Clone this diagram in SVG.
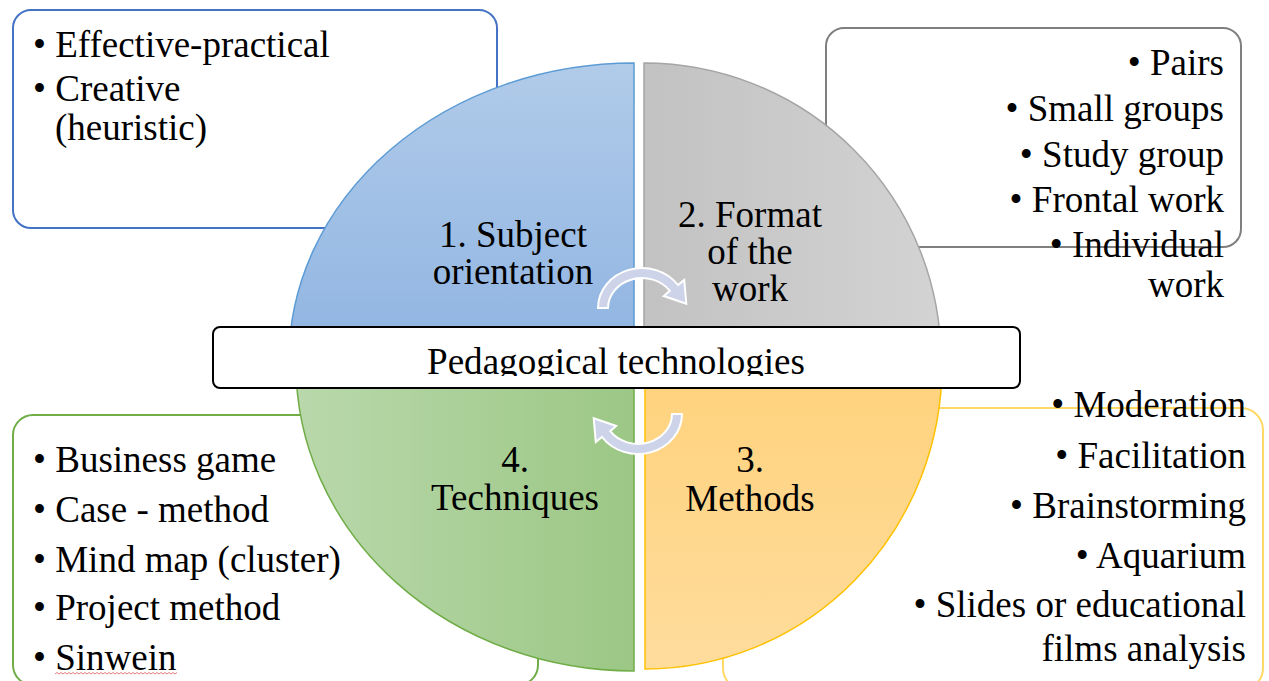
<svg xmlns="http://www.w3.org/2000/svg" width="1269" height="681" viewBox="0 0 1269 681">
  <style>
    .t { font-family: "Liberation Serif", "Times New Roman", serif; font-size: 37px; fill: #000; }
    .m { text-anchor: middle; }
    .e { text-anchor: end; }
    .box { fill: #fff; stroke-width: 2; }
    .arr { fill: #cdd4ea; stroke: #fff; stroke-width: 2; }
  </style>
  <defs>
    <linearGradient id="gBlue" x1="0" y1="0" x2="0" y2="1">
      <stop offset="0" stop-color="#b1cbe9"/>
      <stop offset="1" stop-color="#8fb4e2"/>
    </linearGradient>
    <linearGradient id="gGray" x1="0" y1="0" x2="1" y2="0">
      <stop offset="0" stop-color="#c2c2c2"/>
      <stop offset="1" stop-color="#d3d3d3"/>
    </linearGradient>
    <linearGradient id="gGreen" x1="0" y1="0" x2="1" y2="0">
      <stop offset="0" stop-color="#b9d8ab"/>
      <stop offset="1" stop-color="#9cc785"/>
    </linearGradient>
    <linearGradient id="gOrange" x1="0" y1="0" x2="0" y2="1">
      <stop offset="0" stop-color="#ffd27c"/>
      <stop offset="1" stop-color="#fedc9c"/>
    </linearGradient>
    <clipPath id="clipTitle">
      <rect x="214" y="328" width="805" height="48"/>
    </clipPath>
  </defs>

  <!-- text boxes (behind the quadrants) -->
  <g id="box-subject">
    <rect class="box" x="13" y="10" width="484" height="218" rx="18" stroke="#4472c4"/>
    <text class="t" x="33" y="57">• Effective-practical</text>
    <text class="t" x="33" y="101">• Creative</text>
    <text class="t" x="55" y="140">(heuristic)</text>
  </g>
  <g id="box-format">
    <rect class="box" x="826" y="28" width="415" height="219" rx="18" stroke="#7f7f7f"/>
  </g>
  <g id="box-techniques">
    <rect class="box" x="13" y="415" width="525" height="270" rx="20" stroke="#70ad47"/>
  </g>
  <g id="box-methods">
    <rect class="box" x="723" y="408" width="540" height="282" rx="22" stroke="#ffd966"/>
  </g>

  <!-- quadrants -->
  <g id="q1-subject">
    <path d="M634,360 L634,63 A345,297 0 0 0 289,360 Z" fill="url(#gBlue)" stroke="#5b9bd5" stroke-width="1.5"/>
    <text class="t m" x="513" y="247">1. Subject</text>
    <text class="t m" x="513" y="284">orientation</text>
  </g>
  <g id="q2-format">
    <path d="M644,360 L644,63 A297,297 0 0 1 941,360 Z" fill="url(#gGray)" stroke="#a5a5a5" stroke-width="1.5"/>
    <text class="t m" x="750" y="227">2. Format</text>
    <text class="t m" x="750" y="264">of the</text>
    <text class="t m" x="750" y="301">work</text>
  </g>
  <g id="q4-techniques">
    <path d="M634,365 L296,365 A338,306 0 0 0 634,671 Z" fill="url(#gGreen)" stroke="#70ad47" stroke-width="1.5"/>
    <text class="t m" x="515" y="472">4.</text>
    <text class="t m" x="515" y="510">Techniques</text>
  </g>
  <g id="q3-methods">
    <path d="M645,365 L645,669 A297,304 0 0 0 942,365 Z" fill="url(#gOrange)" stroke="#ffc000" stroke-width="1.5"/>
    <text class="t m" x="750" y="472">3.</text>
    <text class="t m" x="750" y="511">Methods</text>
  </g>

  <!-- box texts on top -->
  <g id="list-format">
    <text class="t e" x="1224" y="75">• Pairs</text>
    <text class="t e" x="1224" y="121">• Small groups</text>
    <text class="t e" x="1224" y="167">• Study group</text>
    <text class="t e" x="1224" y="212">• Frontal work</text>
    <text class="t e" x="1224" y="257">• Individual</text>
    <text class="t e" x="1224" y="297">work</text>
  </g>
  <g id="list-techniques">
    <text class="t" x="33" y="472">• Business game</text>
    <text class="t" x="33" y="522">• Case - method</text>
    <text class="t" x="33" y="572">• Mind map (cluster)</text>
    <text class="t" x="33" y="620">• Project method</text>
    <text class="t" x="33" y="670">• Sinwein</text>
    <path d="M55,674 l2,-1.5 l2,1.5 l2,-1.5 l2,1.5 l2,-1.5 l2,1.5 l2,-1.5 l2,1.5 l2,-1.5 l2,1.5 l2,-1.5 l2,1.5 l2,-1.5 l2,1.5 l2,-1.5 l2,1.5 l2,-1.5 l2,1.5 l2,-1.5 l2,1.5 l2,-1.5 l2,1.5 l2,-1.5 l2,1.5 l2,-1.5 l2,1.5 l2,-1.5 l2,1.5 l2,-1.5 l2,1.5 l2,-1.5 l2,1.5 l2,-1.5 l2,1.5 l2,-1.5 l2,1.5 l2,-1.5 l2,1.5 l2,-1.5 l2,1.5 l2,-1.5 l2,1.5 l2,-1.5 l2,1.5 l2,-1.5 l2,1.5 l2,-1.5 l2,1.5 l2,-1.5 l2,1.5 l2,-1.5 l2,1.5 l2,-1.5 l2,1.5 l2,-1.5 l2,1.5 l2,-1.5 l2,1.5 l2,-1.5 l2,1.5 l2,-1.5" fill="none" stroke="#e05a5a" stroke-width="0.8"/>
  </g>
  <g id="list-methods">
    <text class="t e" x="1246" y="417">• Moderation</text>
    <text class="t e" x="1246" y="468">• Facilitation</text>
    <text class="t e" x="1246" y="518">• Brainstorming</text>
    <text class="t e" x="1246" y="568">• Aquarium</text>
    <text class="t e" x="1246" y="617">• Slides or educational</text>
    <text class="t e" x="1246" y="661">films analysis</text>
  </g>

  <!-- central title -->
  <g id="center">
    <rect x="213" y="327" width="807" height="61" rx="7" fill="#fff" stroke="#000" stroke-width="2"/>
    <text class="t m" x="616" y="374" font-size="41" textLength="378" lengthAdjust="spacingAndGlyphs" clip-path="url(#clipTitle)">Pedagogical technologies</text>
  </g>

  <!-- connectors: circular arrows -->
  <g id="connectors">
    <path class="arr" d="M598,308 A44,40 0 0 1 678,285 L684.2,280 L686.3,303.8 L663.8,296 L669.8,290.8 A34,30 0 0 0 608,308 Z"/>
    <path class="arr" d="M598,308 A44,40 0 0 1 678,285 L684.2,280 L686.3,303.8 L663.8,296 L669.8,290.8 A34,30 0 0 0 608,308 Z" transform="rotate(180 640 361)"/>
  </g>
</svg>
